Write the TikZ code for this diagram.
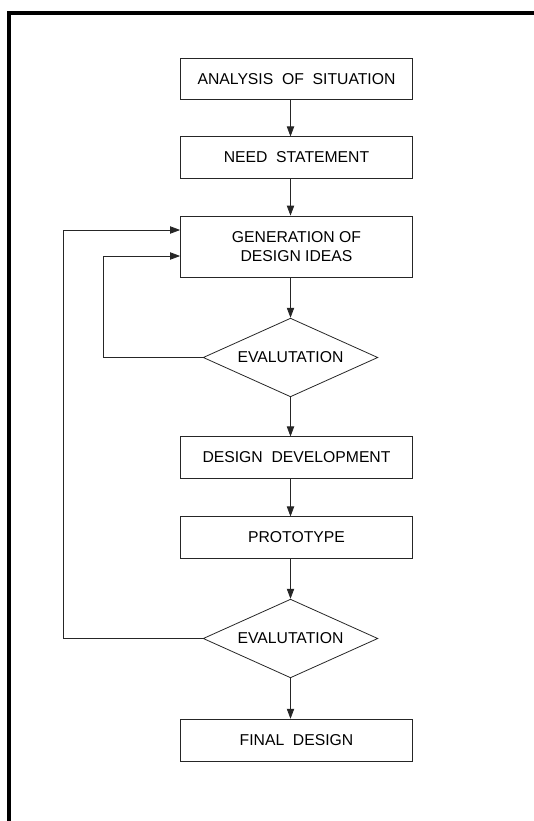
\documentclass[tikz,border=0pt]{standalone}
\usepackage{fontspec}
\setmainfont{Liberation Sans}
\usepackage{tikz}
\usetikzlibrary{arrows.meta, positioning}
\usetikzlibrary{shapes.geometric}

\tikzset{
  stage/.style={draw, color=black!85, text=black, line width=0.6pt, minimum width=174pt, minimum height=31pt, inner sep=0.75pt, align=center, font=\fontsize{11.8}{14.6}\selectfont},
  check/.style={draw, diamond, aspect=2.2, color=black!85, text=black, line width=0.6pt, minimum width=131pt, minimum height=59pt, inner sep=0pt, font=\fontsize{11.8}{14.6}\selectfont},
  flow/.style={color=black!85, line width=0.6pt, -{Triangle[length=7.5pt,width=5.5pt]}}
}

\begin{document}
\begin{tikzpicture}[x=0.75pt,y=0.75pt,yscale=-1,xscale=1]

\useasboundingbox (0,0) rectangle (534,821);

%Frame
\draw [line width=3pt] (9,821) -- (9,13) -- (534,13) ;

% Stages
\node [stage] (analysis) at (296.5,79) {ANALYSIS\ \ OF\ \ SITUATION};
\node [stage] (need) at (296.5,157.5) {NEED\ \ STATEMENT};
\node [stage, minimum height=45.75pt] (ideas) at (296.5,246.5) {GENERATION OF\\DESIGN IDEAS};
\node [check] (eval1) at (290.5,357.5) {EVALUTATION};
\node [stage] (develop) at (296.5,457.5) {DESIGN\ \ DEVELOPMENT};
\node [stage] (proto) at (296.5,537.5) {PROTOTYPE};
\node [check] (eval2) at (290.5,638.5) {EVALUTATION};
\node [stage, minimum height=32pt] (final) at (296.5,740.5) {FINAL\ \ DESIGN};

%Straight Lines
\draw [flow] (analysis.south -| eval1.north) -- (need.north -| eval1.north) ;
\draw [flow] (need.south -| eval1.north) -- (ideas.north -| eval1.north) ;
\draw [flow] (ideas.south -| eval1.north) -- (eval1.north) ;
\draw [flow] (eval1.south) -- (develop.north -| eval1.south) ;
\draw [flow] (develop.south -| eval1.south) -- (proto.north -| eval1.south) ;
\draw [flow] (proto.south -| eval2.north) -- (eval2.north) ;
\draw [flow] (eval2.south) -- (final.north -| eval2.south) ;

%Feedback loops
\coordinate (innerturn) at (103,256);
\coordinate (outerturn) at (63,230);
\draw [flow] (eval1.west) -| (innerturn) -- (innerturn -| ideas.west) ;
\draw [flow] (eval2.west) -| (outerturn) -- (outerturn -| ideas.west) ;

\end{tikzpicture}
\end{document}
